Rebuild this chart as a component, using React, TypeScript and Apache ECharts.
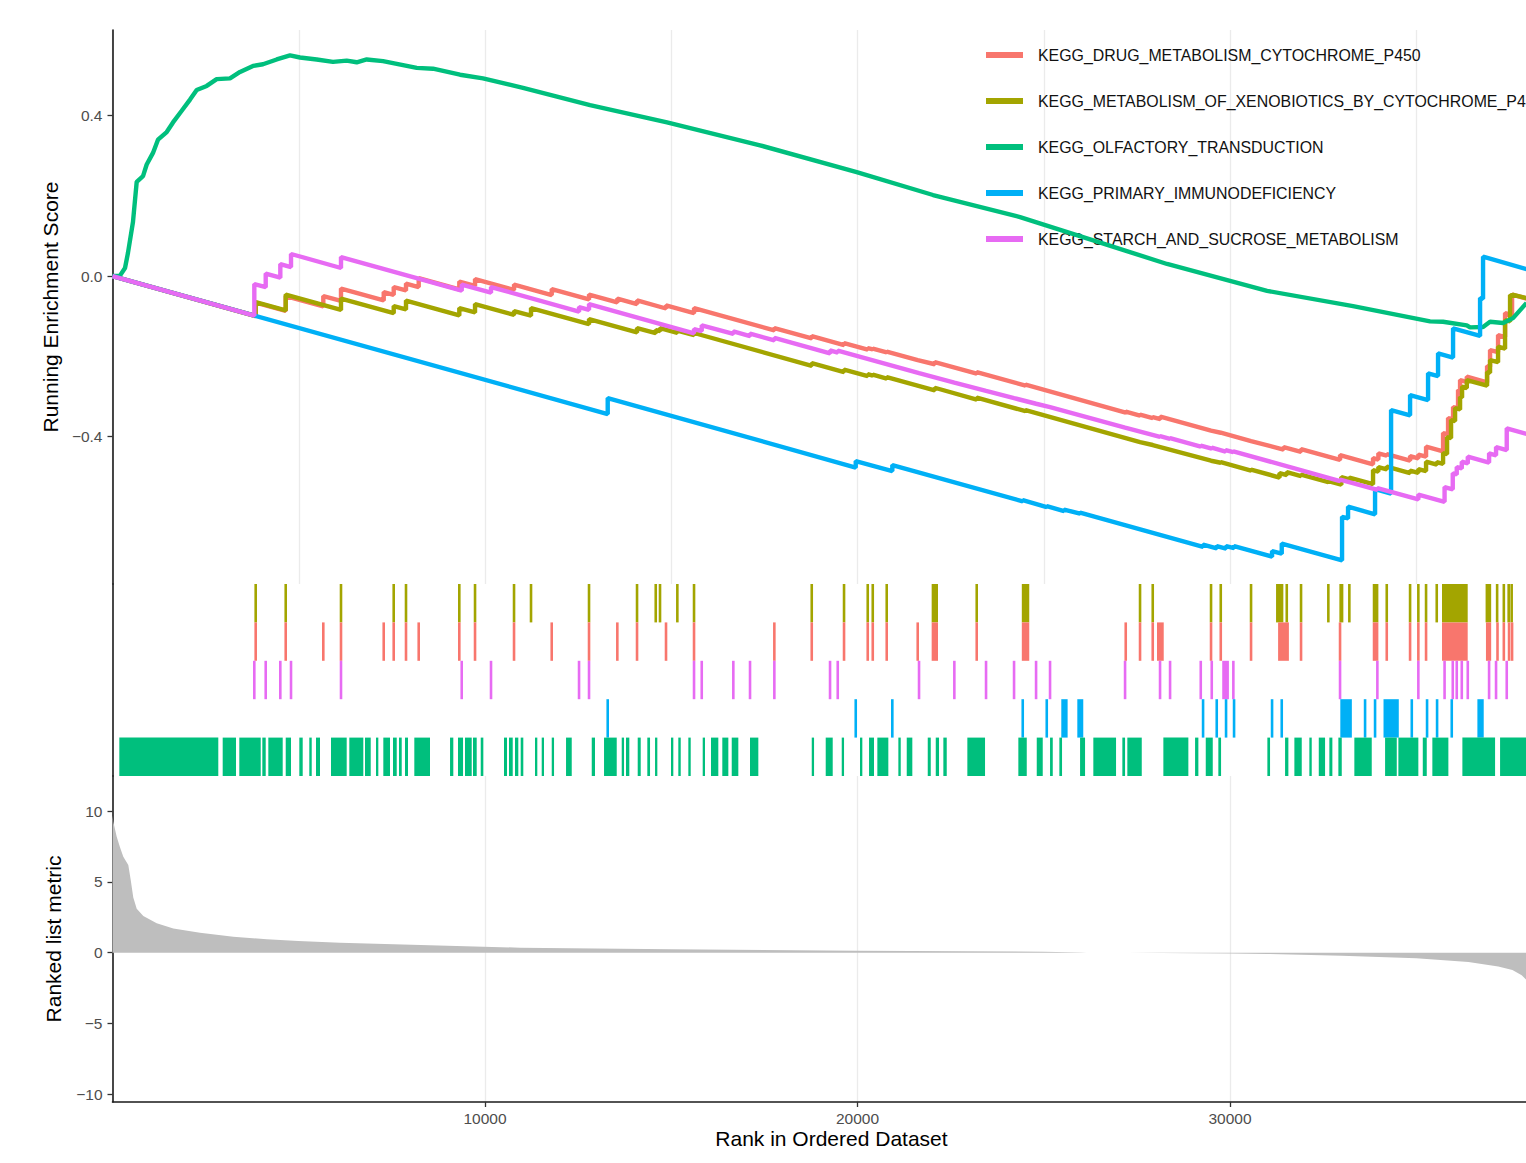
import React, { useEffect, useRef } from "react";
import * as echarts from "echarts";

// ---------- data ----------
const N_GENES = 38600;

const SET_NAMES = [
  "KEGG_DRUG_METABOLISM_CYTOCHROME_P450",
  "KEGG_METABOLISM_OF_XENOBIOTICS_BY_CYTOCHROME_P450",
  "KEGG_OLFACTORY_TRANSDUCTION",
  "KEGG_PRIMARY_IMMUNODEFICIENCY",
  "KEGG_STARCH_AND_SUCROSE_METABOLISM",
];
const SET_COLORS = ["#F8766D", "#A3A500", "#00BF7D", "#00B0F6", "#E76BF3"];

const ES_TICKS = [-0.4, 0, 0.4];
const METRIC_TICKS = [-10, -5, 0, 5, 10];
const RANK_TICKS = [10000, 20000, 30000];

// running enrichment score steps: [rank, score before hit, score after hit]
const redSteps = [
  [3844, -0.0998, -0.0661], [4650, -0.087, -0.0499], [5659, -0.0758, -0.0499], [6134, -0.0621, -0.0312],
  [7281, -0.0608, -0.0399], [7549, -0.0469, -0.0274], [7879, -0.0359, -0.0187], [8220, -0.0274, -0.005],
  [9310, -0.0332, -0.0137], [9732, -0.0247, -0.0075], [10779, -0.0347, -0.0212], [11791, -0.0474, -0.0324],
  [12792, -0.0584, -0.0461], [13552, -0.0658, -0.0561], [14081, -0.0698, -0.0608], [14859, -0.081, -0.0733],
  [15611, -0.0928, -0.0798], [17767, -0.1357, -0.1297], [18771, -0.1556, -0.1496], [19638, -0.1721, -0.1671],
  [20274, -0.1835, -0.1796], [20409, -0.183, -0.1808], [20784, -0.1905, -0.1883], [21616, -0.2097, -0.2082],
  [22073, -0.22, -0.2145], [23200, -0.2436, -0.2394], [24510, -0.2733, -0.2706], [27200, -0.3406, -0.3379],
  [27584, -0.3479, -0.3454], [27925, -0.3541, -0.3516], [28129, -0.3569, -0.3504], [29490, -0.3855, -0.384],
  [29751, -0.3908, -0.3903], [30564, -0.4115, -0.4102], [31437, -0.4327, -0.4264], [31906, -0.4384, -0.4314],
  [32953, -0.4586, -0.4464], [33839, -0.4696, -0.4539], [33982, -0.4576, -0.4421], [34207, -0.4481, -0.4439],
  [34833, -0.4601, -0.4489], [35055, -0.4546, -0.4451], [35262, -0.4504, -0.4257], [35719, -0.4372, -0.3915],
  [35853, -0.395, -0.3541], [35987, -0.3576, -0.3267], [36121, -0.3302, -0.2843], [36175, -0.2858, -0.2594],
  [36355, -0.2641, -0.2511], [36900, -0.2653, -0.2244], [36980, -0.2264, -0.1845], [37195, -0.19, -0.1471],
  [37383, -0.1521, -0.0923], [37571, -0.0973, -0.0461],
];
const redEnd = [37960, -0.0561];

const oliveSteps = [
  [3844, -0.0998, -0.0648], [4650, -0.0858, -0.0461], [6134, -0.0845, -0.0561], [7549, -0.0928, -0.0748],
  [7879, -0.0833, -0.0611], [9310, -0.0983, -0.0798], [9732, -0.0908, -0.0698], [10779, -0.097, -0.0873],
  [11235, -0.099, -0.0798], [12792, -0.1202, -0.1072], [14081, -0.1406, -0.1297], [14583, -0.1426, -0.1347],
  [14698, -0.1377, -0.1297], [15163, -0.1416, -0.1359], [15611, -0.1476, -0.1421], [18771, -0.2239, -0.217],
  [19638, -0.2394, -0.2332], [20274, -0.2496, -0.2449], [20409, -0.2484, -0.2459], [20784, -0.2556, -0.2519],
  [22073, -0.2853, -0.2786], [23200, -0.3082, -0.3032], [24510, -0.3372, -0.3342], [27584, -0.414, -0.4127],
  [27925, -0.4214, -0.4202], [29490, -0.4606, -0.4589], [29751, -0.4656, -0.4638], [30564, -0.485, -0.4825],
  [31329, -0.5025, -0.4913], [31523, -0.4965, -0.4888], [31906, -0.4988, -0.495], [32639, -0.514, -0.5112],
  [32988, -0.5202, -0.5012], [33203, -0.507, -0.5025], [33839, -0.519, -0.4838], [33982, -0.4875, -0.4763],
  [34207, -0.482, -0.4751], [34833, -0.4913, -0.485], [35055, -0.4908, -0.4813], [35262, -0.4865, -0.4631],
  [35549, -0.4706, -0.4638], [35719, -0.4683, -0.4414], [35826, -0.4441, -0.4015], [35933, -0.4042, -0.3591],
  [36041, -0.3618, -0.3292], [36175, -0.3327, -0.3017], [36229, -0.3032, -0.2761], [36355, -0.2793, -0.2594],
  [36900, -0.2736, -0.2394], [36980, -0.2414, -0.2095], [37195, -0.215, -0.1763], [37383, -0.1813, -0.1097],
  [37517, -0.1132, -0.0474], [37578, -0.0494, -0.0461],
];
const oliveEnd = [37960, -0.0554];

const greenCurve = [
  [0, 0], [201, 0.001], [336, 0.02], [416, 0.058], [550, 0.135], [650, 0.235], [819, 0.249], [918, 0.278],
  [1087, 0.307], [1221, 0.34], [1455, 0.359], [1624, 0.383], [1858, 0.412], [2081, 0.44], [2260, 0.464],
  [2529, 0.474], [2797, 0.491], [3154, 0.493], [3423, 0.509], [3772, 0.524], [4040, 0.528], [4408, 0.54],
  [4765, 0.55], [5034, 0.545], [5482, 0.54], [5919, 0.534], [6287, 0.537], [6556, 0.533], [6824, 0.54],
  [7262, 0.536], [8167, 0.519], [8604, 0.517], [9329, 0.502], [9946, 0.493], [11020, 0.469], [12819, 0.426],
  [14886, 0.383], [17382, 0.326], [19978, 0.259], [22027, 0.202], [24363, 0.147], [26054, 0.097],
  [28309, 0.03], [30994, -0.037], [33302, -0.075], [35369, -0.113], [35718, -0.114], [36355, -0.123],
  [36443, -0.128], [36792, -0.127], [36980, -0.114], [37329, -0.117], [37597, -0.105], [37960, -0.067],
];

const blueSteps = [
  [13294, -0.3441, -0.3042], [19952, -0.4776, -0.4613], [20934, -0.4863, -0.4713], [24435, -0.5619, -0.5586],
  [25080, -0.5761, -0.5736], [25544, -0.586, -0.5823], [25974, -0.5928, -0.5898], [29276, -0.6753, -0.6696],
  [29643, -0.6793, -0.6733], [29893, -0.6796, -0.6733], [30108, -0.6788, -0.6733], [31128, -0.6998, -0.6858],
  [31388, -0.6925, -0.6671], [33007, -0.709, -0.6003], [33168, -0.6045, -0.5753], [33893, -0.5941, -0.5312],
  [34323, -0.5424, -0.3342], [34833, -0.3474, -0.2968], [35316, -0.3092, -0.2426], [35584, -0.2496, -0.1928],
  [35987, -0.2032, -0.1304], [36712, -0.1494, -0.0549], [36792, -0.0568, 0.0481],
];
const blueEnd = [38600, 0];

const pinkSteps = [
  [3807, -0.0988, -0.02], [4113, -0.0279, 0.0062], [4505, -0.004, 0.0299], [4792, 0.0224, 0.0549],
  [6134, 0.02, 0.0474], [9375, -0.0367, -0.0212], [10161, -0.0416, -0.0274], [12524, -0.0888, -0.0773],
  [12792, -0.0843, -0.0698], [15611, -0.1429, -0.1322], [15818, -0.1374, -0.1229], [16666, -0.1444, -0.1382],
  [17114, -0.1499, -0.1436], [17767, -0.1606, -0.1544], [19262, -0.193, -0.1855], [19469, -0.1908, -0.1858],
  [21651, -0.2424, -0.2411], [22599, -0.2656, -0.2643], [23450, -0.2863, -0.285], [24202, -0.3045, -0.3032],
  [24793, -0.3185, -0.3172], [25168, -0.3269, -0.3257], [27182, -0.3778, -0.3766], [28121, -0.401, -0.399],
  [28390, -0.406, -0.404], [29214, -0.4254, -0.4229], [29509, -0.4307, -0.4282], [29880, -0.4379, -0.4339],
  [30089, -0.4394, -0.4372], [32953, -0.5115, -0.5075], [33955, -0.5334, -0.5287], [35055, -0.5571, -0.5449],
  [35759, -0.5631, -0.5262], [35979, -0.5319, -0.492], [36086, -0.4948, -0.4763], [36221, -0.4798, -0.4631],
  [36382, -0.4673, -0.4506], [36954, -0.4653, -0.4421], [37141, -0.4471, -0.4264], [37428, -0.4339, -0.3798],
];
const pinkEnd = [37960, -0.3938];

// gene-set hit positions (single rank, or [first, last] for a dense run)
const oliveHits = [
  3844, 4650, 6134, 7549, 7879, 9310, 9732, 10779, 11235, 12792, 14081, 14583, 14698, 15163, 15611, 18771,
  19638, 20274, 20409, 20784, [21990, 22160], 23200, [24410, 24610], 27584, 27925, 29490, 29751, 30564,
  [31235, 31431], 31523, 31906, 32639, [32935, 33042], 33203, [33831, 33982], 34207, 34833, 35055, 35262,
  35549, [35690, 36380], [36860, 37010], 37170, 37350, 37480, 37560,
];
const redHits = [
  3844, 4650, 5659, 6134, 7281, 7549, 7879, 8220, 9310, 9732, 10779, 11791, 12792, 13552, 14081, 14859,
  15611, 17767, 18771, 19638, 20274, 20409, 20784, 21616, [21990, 22160], 23200, [24410, 24610], 27200,
  27584, 27925, [28040, 28220], 29490, 29751, 30564, [31290, 31580], 31906, 32953, [33831, 33982], 34207,
  34833, 35055, 35262, [35690, 36380], [36870, 37010], 37180, 37350, 37490, 37571,
];
const pinkHits = [
  3807, 4113, 4505, 4792, 6134, 9375, 10161, 12524, 12792, 15611, 15818, 16666, 17114, 17767, 19262, 19469,
  21651, 22599, 23450, 24202, 24793, 25168, 27182, 28121, 28390, 29214, 29509, [29790, 29970], 30089,
  32953, 33955, 35055, 35759, 35979, 36086, 36221, 36382, 36954, 37141, 37428,
];
const blueHits = [
  13294, 19952, 20934, 24435, 25080, [25470, 25640], [25900, 26060], 29276, 29643, 29893, 30108, 31128,
  31388, [32960, 33270], 33625, 33893, [34120, 34530], 34879, 35289, 35558, 35952, [36640, 36810],
];
const greenHits = [
  [183, 2840], [2958, 3315], [3404, 3979], [4022, 4113], [4183, 4569], [4650, 4792], [5015, 5106],
  [5283, 5348], [5463, 5571], [5866, 6287], [6357, 6733], [6779, 6932], [7074, 7136], [7270, 7450],
  [7530, 7630], [7691, 7764], [7852, 7933], [8102, 8524], [9061, 9149], [9275, 9410], [9463, 9643],
  [9678, 9777], [9885, 9955], [10510, 10591], [10644, 10744], [10805, 10894], [10958, 11028], [11342, 11404],
  [11522, 11584], [11791, 11853], [12175, 12328], [12865, 12953], [13195, 13536], [13670, 13732],
  [13785, 13874], [14099, 14180], [14357, 14430], [14564, 14626], [14993, 15055], [15189, 15254],
  [15458, 15522], [15844, 15906], [16067, 16263], [16370, 16532], [16623, 16800], [17114, 17337],
  [18771, 18833], [19146, 19334], [19576, 19638], [20067, 20129], [20309, 20443], [20532, 20827],
  [21096, 21160], [21321, 21471], [21885, 21966], [22100, 22188], [22304, 22395], [22948, 23423],
  [24317, 24543], [24811, 24972], [25168, 25241], [25418, 25490], [25974, 26108], [26330, 26940],
  [27109, 27182], [27243, 27630], [28210, 28881], [29061, 29150], [29348, 29536], [29686, 29759],
  [31002, 31074], [31477, 31566], [31727, 31925], [32129, 32193], [32382, 32551], [32666, 32747],
  [32908, 32999], [33337, 33804], [34162, 34476], [34519, 35055], [35174, 35281], [35431, 35861],
  [36237, 37115], [37249, 38600],
];

// ranked list metric
const metricCurve = [
  [0, 9.7], [21, 9.26], [113, 8.2], [201, 7.45], [290, 6.78], [424, 6.2], [489, 5.14], [558, 3.9],
  [650, 3.1], [827, 2.6], [1187, 2.08], [1632, 1.72], [2349, 1.41], [3243, 1.13], [4140, 0.95],
  [4988, 0.83], [6107, 0.71], [9955, 0.42], [10940, 0.36], [15000, 0.24], [20000, 0.14], [25000, 0.07],
  [26000, 0.02], [26150, 0], [27100, 0], [27250, -0.01], [30000, -0.05], [31000, -0.09], [33000, -0.22],
  [35000, -0.39], [36400, -0.65], [37200, -0.98], [37580, -1.22], [37830, -1.6], [37950, -1.9],
  [38300, -4.5], [38600, -9.5],
];

// ---------- helpers ----------
const stepsToLine = (steps: number[][], end: number[]) => {
  const pts: number[][] = [[0, 0]];
  for (const [r, b, a] of steps) {
    pts.push([r, b], [r, a]);
  }
  pts.push(end);
  return pts;
};
const hitsToData = (hits: (number | number[])[], row: number) =>
  hits.map((h) => (Array.isArray(h) ? [h[0], h[1], row] : [h, h, row]));

const FONT = "Liberation Sans, Arial, Helvetica, sans-serif";
const minus = (s: string) => s.replace("-", "\u2212");

export default function App() {
  const ref = useRef<HTMLDivElement>(null);

  useEffect(() => {
    if (!ref.current) return;
    const chart = echarts.init(ref.current, undefined, { renderer: "svg" });

    const GRID_LEFT = 112.5;
    const GRID_W = 1437.9;
    const axisLineStyle = { color: "#1a1a1a", width: 1.6 };
    const tickStyle = { color: "#333333", width: 1.3 };
    const splitStyle = { color: "#EBEBEB", width: 1.3 };
    const labelBase = { fontSize: 15.5, color: "#4D4D4D", fontFamily: FONT };
    const nameStyle = { fontSize: 21, color: "#000000", fontFamily: FONT };

    const esLines = [
      stepsToLine(redSteps, redEnd),
      stepsToLine(oliveSteps, oliveEnd),
      greenCurve,
      stepsToLine(blueSteps, blueEnd),
      stepsToLine(pinkSteps, pinkEnd),
    ];
    // row order from top in the hit panel
    const hitRows = [
      { hits: oliveHits, color: SET_COLORS[1], row: 0 },
      { hits: redHits, color: SET_COLORS[0], row: 1 },
      { hits: pinkHits, color: SET_COLORS[4], row: 2 },
      { hits: blueHits, color: SET_COLORS[3], row: 3 },
      { hits: greenHits, color: SET_COLORS[2], row: 4 },
    ];

    const lineSeries = SET_NAMES.map((name, i) => ({
      name,
      type: "line",
      xAxisIndex: 0,
      yAxisIndex: 0,
      data: esLines[i],
      showSymbol: false,
      symbol: "none",
      lineStyle: { width: 4.4, color: SET_COLORS[i] },
      itemStyle: { color: SET_COLORS[i] },
      z: 2 + i,
    }));

    const hitSeries = hitRows.map((h) => ({
      type: "custom",
      xAxisIndex: 1,
      yAxisIndex: 1,
      silent: true,
      encode: { x: [0, 1], y: 2 },
      data: hitsToData(h.hits, h.row),
      renderItem: (params: any, api: any) => {
        const a = api.value(0);
        const b = api.value(1);
        const row = api.value(2);
        const p0 = api.coord([a, row]);
        const p1 = api.coord([b, row + 1]);
        const single = a === b;
        const x0 = single ? p0[0] - 1.3 : p0[0];
        const x1 = single ? p1[0] + 1.3 : p1[0];
        return {
          type: "rect",
          shape: {
            x: x0,
            y: Math.min(p0[1], p1[1]),
            width: Math.max(x1 - x0, 1),
            height: Math.abs(p1[1] - p0[1]),
          },
          style: { fill: h.color },
        };
      },
    }));

    const option = {
      animation: false,
      backgroundColor: "#ffffff",
      textStyle: { fontFamily: FONT },
      grid: [
        { left: GRID_LEFT, top: 30, width: GRID_W, height: 554 },
        { left: GRID_LEFT, top: 584, width: GRID_W, height: 192 },
        { left: GRID_LEFT, top: 776, width: GRID_W, height: 326 },
      ],
      legend: {
        data: SET_NAMES,
        orient: "vertical",
        left: 981,
        top: 40,
        icon: "rect",
        itemWidth: 37,
        itemHeight: 6,
        itemGap: 26,
        selectedMode: false,
        textStyle: {
          fontSize: 15.9,
          color: "#111111",
          fontFamily: FONT,
          lineHeight: 20,
          padding: [0, 0, 0, 10],
        },
      },
      xAxis: [
        {
          type: "value", gridIndex: 0, min: 0, max: N_GENES, interval: 5000,
          axisLine: { show: false }, axisTick: { show: false }, axisLabel: { show: false },
          splitLine: { show: true, lineStyle: splitStyle },
        },
        {
          type: "value", gridIndex: 1, min: 0, max: N_GENES, interval: 5000,
          axisLine: { show: false }, axisTick: { show: false }, axisLabel: { show: false },
          splitLine: { show: false },
        },
        {
          type: "value", gridIndex: 2, min: 0, max: N_GENES, interval: 5000,
          axisLine: { show: true, onZero: false, lineStyle: axisLineStyle },
          axisTick: { show: true, customValues: RANK_TICKS, length: 5, lineStyle: tickStyle },
          axisLabel: {
            show: true, customValues: RANK_TICKS, margin: 8, ...labelBase,
            formatter: (v: number) => String(Math.round(v)),
          },
          splitLine: { show: true, lineStyle: splitStyle },
          name: "Rank in Ordered Dataset",
          nameLocation: "middle",
          nameGap: 26,
          nameTextStyle: nameStyle,
        },
      ],
      yAxis: [
        {
          type: "value", gridIndex: 0, min: -0.768, max: 0.6135,
          axisLine: { show: true, onZero: false, lineStyle: axisLineStyle },
          axisTick: { show: true, customValues: ES_TICKS, length: 5, lineStyle: tickStyle },
          axisLabel: {
            show: true, customValues: ES_TICKS, margin: 10, ...labelBase,
            formatter: (v: number) => minus(Number(v).toFixed(1)),
          },
          splitLine: { show: false },
          name: "Running Enrichment Score",
          nameLocation: "middle",
          nameRotate: 90,
          nameGap: 49,
          nameTextStyle: nameStyle,
        },
        {
          type: "value", gridIndex: 1, min: 0, max: 5, inverse: true,
          axisLine: { show: true, onZero: false, lineStyle: axisLineStyle },
          axisTick: { show: false }, axisLabel: { show: false }, splitLine: { show: false },
        },
        {
          type: "value", gridIndex: 2, min: -10.55, max: 12.49,
          axisLine: { show: true, onZero: false, lineStyle: axisLineStyle },
          axisTick: { show: true, customValues: METRIC_TICKS, length: 5, lineStyle: tickStyle },
          axisLabel: {
            show: true, customValues: METRIC_TICKS, margin: 10, ...labelBase,
            formatter: (v: number) => minus(String(Math.round(v))),
          },
          splitLine: { show: false },
          name: "Ranked list metric",
          nameLocation: "middle",
          nameRotate: 90,
          nameGap: 49,
          nameTextStyle: nameStyle,
        },
      ],
      series: [
        ...lineSeries,
        ...hitSeries,
        {
          type: "line",
          xAxisIndex: 2,
          yAxisIndex: 2,
          data: metricCurve,
          showSymbol: false,
          symbol: "none",
          silent: true,
          lineStyle: { width: 0, color: "#BEBEBE" },
          itemStyle: { color: "#BEBEBE" },
          areaStyle: { color: "#BEBEBE", opacity: 1, origin: "auto" },
          z: 1,
        },
      ],
    };

    chart.setOption(option as any);
    return () => chart.dispose();
  }, []);

  return (
    <div
      style={{
        position: "absolute", left: 0, top: 0, width: 1526, height: 1163,
        overflow: "hidden", background: "#fff",
      }}
    >
      <div ref={ref} style={{ width: 1560, height: 1163 }} />
    </div>
  );
}
